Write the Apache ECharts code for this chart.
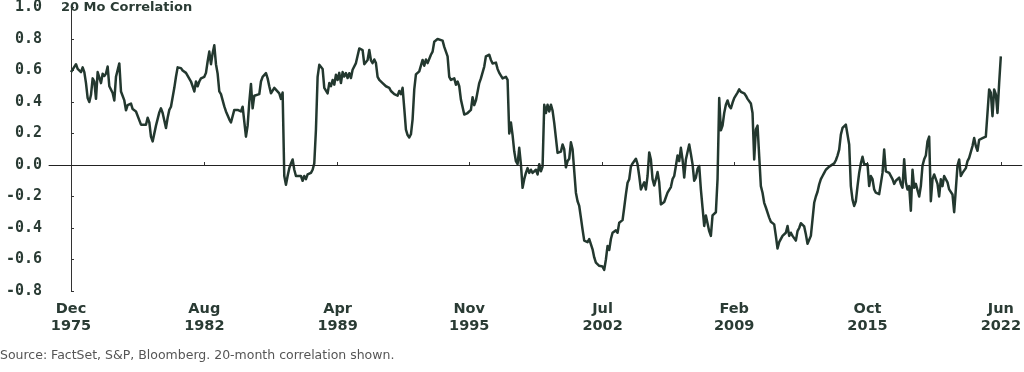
<!DOCTYPE html>
<html>
<head>
<meta charset="utf-8">
<script src="https://cdn.jsdelivr.net/npm/echarts@6/dist/echarts.min.js"></script>
<style>
html,body{margin:0;padding:0;background:#fff;}
#chart{width:1024px;height:372px;}
</style>
</head>
<body>
<div id="chart"></div>
<script>
// months since Dec 1975
const monthIdx = [
  0,1,3,4,5,6,7,8,9,10,
  11,12,13,14,15,16,17,18,19,20,
  21,22,23,24,25,26,27,29,30,32,
  33,34,36,37,39,40,42,43,45,46,
  47,48,49,50,51,53,54,55,57,58,
  59,60,62,63,64,66,67,69,70,72,
  73,74,75,76,77,78,80,81,82,83,
  84,85,86,87,88,89,90,91,92,93,
  94,95,96,97,98,99,100,101,102,103,
  104,105,106,107,108,109,110,111,113,114,
  115,117,118,119,120,122,123,125,126,127,
  128,129,130,131,132,133,134,135,136,138,
  139,140,141,142,144,145,146,147,148,149,
  150,151,152,154,155,156,157,158,159,160,
  161,162,163,164,165,166,167,168,169,170,
  171,172,173,174,175,176,177,178,179,180,
  181,182,183,184,185,187,189,191,192,193,
  194,196,197,198,199,200,201,202,203,204,
  205,206,207,209,210,211,212,213,214,216,
  217,218,220,221,223,224,225,226,227,228,
  230,231,232,233,234,235,236,237,238,239,
  240,241,242,243,245,246,248,249,251,252,
  253,254,255,256,257,258,259,261,262,263,
  264,265,266,267,268,269,270,271,272,273,
  274,275,276,277,279,280,281,282,283,284,
  285,286,287,288,289,290,291,292,293,294,
  295,296,297,298,299,300,301,302,303,304,
  305,306,307,308,310,311,312,313,314,315,
  317,318,319,320,321,322,323,324,325,326,
  327,328,329,330,331,332,333,334,335,336,
  337,338,339,340,341,342,343,344,345,346,
  347,348,349,350,351,352,353,354,355,356,
  357,358,359,360,361,362,363,364,365,366,
  367,368,369,371,372,373,374,375,376,377,
  378,379,380,381,382,383,384,385,386,387,
  388,389,390,391,392,393,394,395,396,397,
  398,400,401,402,404,405,406,407,408,409,
  410,411,412,413,414,415,416,417,419,420,
  421,422,423,424,425,426,427,428,429,430,
  431,432,433,434,435,436,437,438,439,440,
  441,442,443,444,445,446,447,448,449,450,
  451,452,453,455,456,458,459,460,461,462,
  463,465,466,467,468,469,470,471,472,473,
  474,475,476,477,478,479,480,481,482,483,
  484,485,486,487,488,489,490,491,492,493,
  494,495,496,497,498,499,500,501,502,503,
  504,505,506,507,508,509,510,511,512,513,
  514,515,516,517,518,519,520,521,522,523,
  524,525,526,527,529,530,531,532,533,534,
  535,536,537,538,539,540,541,542,543,544,
  545,546,547,548,549,550,551,552,553,554,
  555,556,557,558
];
// 20-month correlation
const corr = [
  0.59,0.60,0.64,0.61,0.62,0.59,0.62,0.59,0.52,0.425,
  0.40,0.446,0.55,0.53,0.42,0.59,0.60,0.52,0.58,0.565,
  0.58,0.625,0.50,0.49,0.457,0.41,0.56,0.645,0.467,0.41,
  0.347,0.38,0.39,0.355,0.34,0.34,0.256,0.25,0.256,0.30,
  0.27,0.18,0.15,0.16,0.25,0.334,0.36,0.33,0.235,0.30,
  0.35,0.37,0.49,0.56,0.62,0.615,0.60,0.585,0.58,0.53,
  0.50,0.467,0.53,0.50,0.53,0.55,0.56,0.585,0.657,0.72,
  0.64,0.71,0.76,0.64,0.58,0.467,0.45,0.44,0.372,0.34,
  0.35,0.29,0.27,0.265,0.35,0.355,0.35,0.355,0.34,0.37,
  0.375,0.18,0.25,0.40,0.515,0.36,0.44,0.43,0.45,0.53,
  0.56,0.583,0.55,0.50,0.455,0.49,0.485,0.455,0.42,0.46,
  -0.07,-0.125,-0.07,-0.02,0.01,0.035,-0.03,-0.07,-0.08,-0.07,
  -0.10,-0.07,-0.09,-0.06,-0.05,-0.03,0.01,0.225,0.56,0.636,
  0.63,0.61,0.49,0.455,0.52,0.50,0.54,0.51,0.573,0.54,
  0.585,0.52,0.59,0.562,0.583,0.552,0.583,0.552,0.605,0.595,
  0.647,0.636,0.74,0.745,0.73,0.64,0.647,0.667,0.73,0.665,
  0.647,0.67,0.647,0.56,0.54,0.52,0.50,0.49,0.47,0.48,
  0.45,0.44,0.47,0.45,0.49,0.36,0.225,0.19,0.175,0.195,
  0.29,0.48,0.575,0.595,0.595,0.667,0.63,0.67,0.647,0.70,
  0.72,0.783,0.80,0.795,0.79,0.75,0.72,0.69,0.56,0.54,
  0.55,0.51,0.53,0.50,0.415,0.41,0.32,0.315,0.33,0.32,
  0.35,0.43,0.38,0.41,0.52,0.55,0.625,0.69,0.70,0.667,
  0.645,0.655,0.65,0.61,0.585,0.585,0.55,0.56,0.54,0.20,
  0.27,0.19,0.087,0.024,0.005,0.109,0.005,-0.145,-0.09,-0.05,
  -0.02,-0.05,-0.03,-0.05,-0.03,-0.06,0.005,-0.04,-0.01,0.383,
  0.33,0.383,0.34,0.383,0.345,0.267,0.172,0.077,0.08,0.085,
  0.13,0.10,-0.015,0.025,0.04,0.144,0.10,0.10,-0.176,-0.23,
  -0.26,-0.334,-0.41,-0.48,-0.49,-0.47,-0.47,-0.535,-0.587,-0.62,
  -0.64,-0.63,-0.645,-0.666,-0.60,-0.514,-0.54,-0.47,-0.43,-0.425,
  -0.415,-0.43,-0.366,-0.36,-0.35,-0.27,-0.187,-0.113,-0.09,-0.01,
  0.01,0.01,0.04,0.005,-0.07,-0.155,-0.165,-0.11,-0.155,-0.07,
  0.08,0.035,-0.09,-0.13,-0.09,-0.045,-0.11,-0.25,-0.26,-0.235,
  -0.205,-0.175,-0.185,-0.14,-0.09,-0.07,-0.006,0.06,0.025,0.109,
  0.035,-0.08,0.035,0.13,0.07,0.005,-0.10,-0.08,-0.025,-0.006,
  -0.155,-0.27,-0.387,-0.32,-0.325,-0.42,-0.45,-0.32,-0.33,-0.30,
  -0.09,0.425,0.22,0.25,0.33,0.383,0.41,0.375,0.36,0.395,
  0.425,0.46,0.48,0.465,0.455,0.44,0.42,0.414,0.39,0.33,
  0.035,0.225,0.25,0.056,-0.134,-0.176,-0.24,-0.27,-0.334,-0.36,
  -0.35,-0.377,-0.45,-0.53,-0.49,-0.49,-0.45,-0.44,-0.43,-0.387,
  -0.45,-0.43,-0.45,-0.46,-0.48,-0.42,-0.40,-0.37,-0.37,-0.39,
  -0.44,-0.50,-0.51,-0.45,-0.345,-0.24,-0.20,-0.17,-0.123,-0.09,
  -0.07,-0.05,-0.03,-0.01,0.0,0.01,0.03,0.06,0.098,0.193,
  0.235,0.256,0.25,0.13,-0.134,-0.22,-0.26,-0.23,-0.134,-0.05,
  0.01,0.052,0.005,0.015,0.005,-0.134,-0.07,-0.09,-0.155,-0.176,
  -0.185,-0.185,-0.176,-0.05,0.098,-0.04,-0.035,-0.05,-0.06,-0.09,
  -0.12,-0.10,-0.09,-0.08,-0.12,-0.144,0.036,-0.11,-0.155,-0.134,
  -0.29,-0.03,-0.145,-0.12,-0.11,-0.20,-0.134,-0.004,0.036,0.06,
  0.15,0.18,-0.23,-0.09,-0.06,-0.065,-0.12,-0.20,-0.09,-0.134,
  -0.07,-0.065,-0.11,-0.155,-0.187,-0.30,-0.155,-0.004,0.035,-0.07,
  -0.05,-0.04,-0.02,0.025,0.045,0.05,0.12,0.172,0.12,0.09,
  0.16,0.17,0.17,0.17,0.18,0.33,0.48,0.46,0.31,0.48,
  0.45,0.33,0.52,0.69
];
const tickMonths = [0, 80, 160, 239, 319, 398, 478, 558];
const tickLabels = ['Dec\n1975','Aug\n1982','Apr\n1989','Nov\n1995','Jul\n2002','Feb\n2009','Oct\n2015','Jun\n2022'];
const yMin = -0.8, yMax = 1.0, yStep = 0.2;
const titleText = '20 Mo Correlation';
const sourceText = 'Source: FactSet, S&P, Bloomberg. 20-month correlation shown.';

const lineColor = '#23382f';
const textColor = '#2a3b34';

const chart = echarts.init(document.getElementById('chart'), null, {renderer: 'canvas'});
chart.setOption({
  animation: false,
  backgroundColor: '#ffffff',
  title: {
    text: titleText,
    left: 61, top: 1, padding: 0,
    textStyle: {fontFamily: 'DejaVu Sans', fontWeight: 'bold', fontSize: 13, color: textColor}
  },
  graphic: [{
    type: 'text', left: 0, top: 349,
    style: {text: sourceText, fontFamily: 'DejaVu Sans', fontSize: 12.5, fill: '#555555'}
  }],
  grid: {left: 49, right: 2, top: 7, bottom: 81, containLabel: false},
  xAxis: {
    type: 'value', min: -13.2, max: 570.6,
    axisLine: {show: true, lineStyle: {color: '#333', width: 1}},
    axisTick: {show: true, inside: true, length: 3, customValues: tickMonths, lineStyle: {color: '#333'}},
    axisLabel: {
      customValues: tickMonths,
      formatter: v => tickLabels[tickMonths.indexOf(v)],
      margin: 10, fontFamily: 'DejaVu Sans', fontWeight: 'bold', fontSize: 14.5, lineHeight: 17, color: textColor
    },
    splitLine: {show: false}
  },
  yAxis: {
    type: 'value', min: yMin, max: yMax, interval: yStep,
    axisLine: {show: true, lineStyle: {color: '#333', width: 1}},
    axisTick: {show: true, inside: true, length: 3, lineStyle: {color: '#333'}},
    axisLabel: {
      formatter: v => (Math.abs(v) < 1e-9 ? 0 : v).toFixed(1),
      margin: 7, fontFamily: 'DejaVu Sans Mono', fontWeight: 'bold', fontSize: 15, color: textColor
    },
    splitLine: {show: false}
  },
  series: [{
    type: 'line',
    data: monthIdx.map((m, i) => [m, corr[i]]),
    showSymbol: false,
    lineStyle: {color: lineColor, width: 2.5, join: 'round'},
    markLine: {
      silent: true, symbol: 'none', label: {show: false},
      lineStyle: {color: '#222', width: 1, type: 'solid'},
      data: [{yAxis: 0}]
    }
  }]
});
</script>
</body>
</html>
